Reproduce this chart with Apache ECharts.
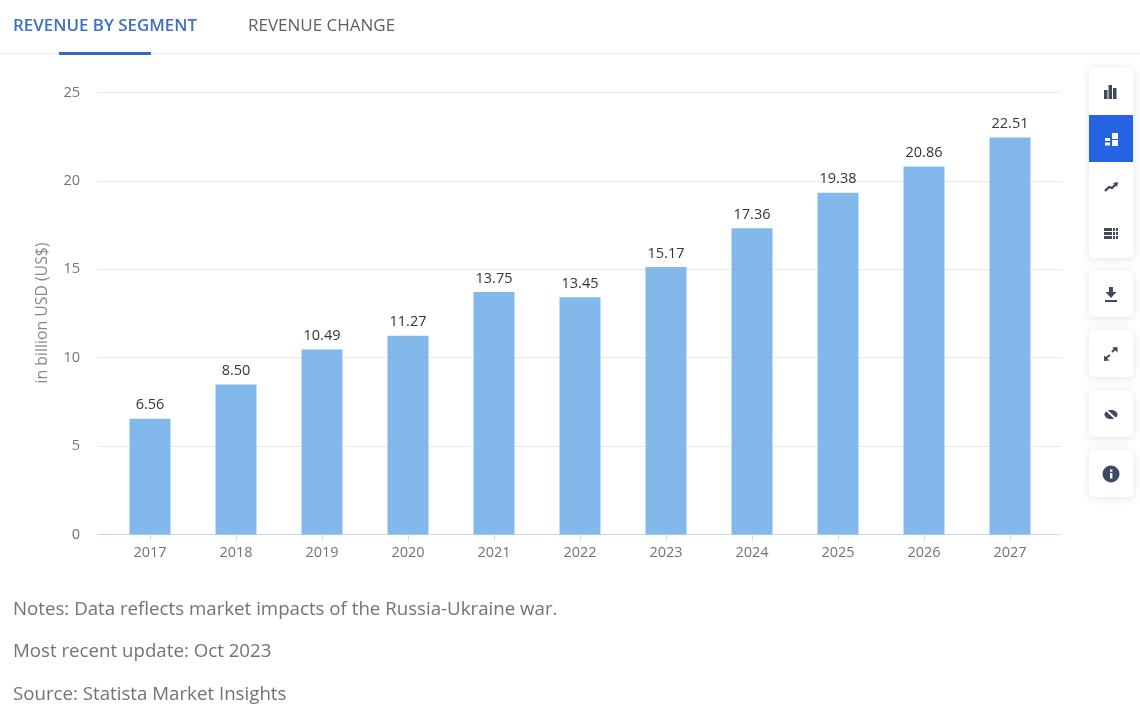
<!DOCTYPE html>
<html><head><meta charset="utf-8">
<style>html,body{margin:0;padding:0;background:#fff}#c{width:1140px;height:723px}</style>
<script src="https://cdn.jsdelivr.net/npm/echarts@6/dist/echarts.min.js"></script>
</head><body><div id="c"></div>
<script>
const years = ['2017','2018','2019','2020','2021','2022','2023','2024','2025','2026','2027'];
const revenue = [6.56,8.50,10.49,11.27,13.75,13.45,15.17,17.36,19.38,20.86,22.51];
const yTicks = {min:0,max:25,interval:5};
const tabs = ['REVENUE BY SEGMENT','REVENUE CHANGE'];
const notes = ['Notes: Data reflects market impacts of the Russia-Ukraine war.','Most recent update: Oct 2023','Source: Statista Market Insights'];
const yName = 'in billion USD (US$)';

const font = '"Open Sans"';
const ink = '#3f4a5c';
const card = (x,y,w,h,fill) => ({type:'rect',shape:{x,y,width:w,height:h,r:4},
  style:{fill:fill||'#fff',shadowBlur:9,shadowColor:'rgba(60,80,110,0.16)',shadowOffsetY:1}});
const r = (x,y,w,h,fill) => ({type:'rect',shape:{x,y,width:w,height:h},style:{fill:fill||ink}});
const line = (pts,w,col) => ({type:'polyline',shape:{points:pts},style:{fill:'none',stroke:col||ink,lineWidth:w||2}});
const poly = (pts,col) => ({type:'polygon',shape:{points:pts},style:{fill:col||ink}});

const ui = [
  // header
  {type:'text',x:13,y:18,style:{text:tabs[0],fill:'#3f70c8',font:'600 16.9px '+font}},
  {type:'text',x:248,y:18,style:{text:tabs[1],fill:'#5b6068',font:'500 17px '+font}},
  {type:'rect',shape:{x:0,y:53,width:1140,height:1},style:{fill:'#eef0f2'}},
  {type:'rect',shape:{x:59,y:52,width:92,height:3},style:{fill:'#3566c9'}},
  // side buttons
  card(1089,68,44,190),
  {type:'rect',shape:{x:1089,y:115,width:44,height:47},style:{fill:'#2563e3'}},
  card(1089,270,44,47),card(1089,330,44,47),card(1089,390,44,47),card(1089,450,44,47),
  // bars icon
  r(1104,90,3.5,9),r(1108.5,85,3.5,14),r(1113,88,3.5,11),
  // stacked icon
  r(1105,138,5,3,'#fff'),r(1105,142.5,5,3,'#fff'),r(1112,133,6,6,'#fff'),r(1112,140,6,6,'#fff'),
  // trend icon
  line([[1105,191],[1109,187],[1112,188],[1116,184]],2.4),
  poly([[1113,183],[1118,182],[1117,187]]),
  // table icon
  r(1104,228,8,3),r(1104,232,8,3),r(1104,236,8,3),
  r(1113,228,2,3),r(1113,232,2,3),r(1113,236,2,3),
  r(1116,228,2,3),r(1116,232,2,3),r(1116,236,2,3),
  // download icon
  r(1109,287,4,6),poly([[1105.5,292],[1116.5,292],[1111,298]]),r(1105,300,12,2),
  // expand icon
  line([[1106,358],[1110,355]],2),poly([[1104,361],[1104,355.5],[1109.5,360.5]]),
  line([[1112,352],[1115,349]],2),poly([[1117.5,347],[1117.5,352.5],[1112,347.5]]),
  // hidden-eye icon
  {type:'ellipse',shape:{cx:1111,cy:414.5,rx:6.5,ry:4.5},style:{fill:ink}},
  line([[1105,409],[1117,420]],1.8,'#fff'),
  // info icon
  {type:'circle',shape:{cx:1111,cy:474,r:8.5},style:{fill:'#3b4a68'}},
  r(1110,473,2.4,5.5,'#fff'),r(1110,469.5,2.4,2.2,'#fff'),
  // y axis name
  {type:'text',x:42,y:313,rotation:Math.PI/2,style:{text:yName,fill:'#85898f',font:'400 15.8px '+font,align:'center',verticalAlign:'middle'}},
  // notes
  {type:'text',x:13,y:600,style:{text:notes[0],fill:'#6f747a',font:'400 18.7px '+font}},
  {type:'text',x:13,y:642,style:{text:notes[1],fill:'#6f747a',font:'400 18.7px '+font}},
  {type:'text',x:13,y:685,style:{text:notes[2],fill:'#6f747a',font:'400 18.7px '+font}}
];

const chart = echarts.init(document.getElementById('c'),null,{renderer:'canvas'});
chart.setOption({
  animation:false,
  backgroundColor:'#fff',
  grid:[
    {left:107,width:946,top:93.5,height:441},
    {left:98,width:963,top:92.4,height:442.1}
  ],
  xAxis:[
    {type:'category',gridIndex:0,data:years,z:3,
     axisLine:{show:false},
     axisTick:{show:true,alignWithLabel:true,length:7,lineStyle:{color:'#d5dde8'}},
     axisLabel:{color:'#6f747a',fontFamily:font,fontSize:14.5,margin:11}},
    {type:'category',gridIndex:1,data:[''],
     axisLine:{show:true,lineStyle:{color:'#c9d8ea',width:1}},
     axisTick:{show:false},axisLabel:{show:false}}
  ],
  yAxis:[
    {type:'value',gridIndex:0,...yTicks,show:false,splitLine:{show:false}},
    {type:'value',gridIndex:1,...yTicks,
     axisLine:{show:false},axisTick:{show:false},
     axisLabel:{color:'#6f747a',fontFamily:font,fontSize:14.5,margin:18},
     splitLine:{show:true,lineStyle:{color:'#e8ebee',width:1}}}
  ],
  series:[{
    type:'bar',xAxisIndex:0,yAxisIndex:0,data:revenue,barWidth:41,z:4,
    itemStyle:{color:'#82b8ea'},
    label:{show:true,position:'top',distance:6,color:'#2e3640',fontFamily:font,fontWeight:500,fontSize:14.5,
      formatter:p=>p.value.toFixed(2)}
  }],
  graphic:{elements:ui}
});
</script></body></html>
